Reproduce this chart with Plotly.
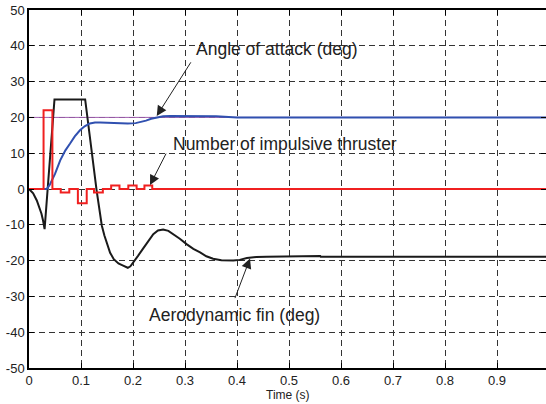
import plotly.graph_objects as go

# Number of impulsive thruster (step signal)
thr_t = [0, 0.028, 0.045, 0.061, 0.0775, 0.094, 0.111, 0.125, 0.142, 0.158, 0.174, 0.191, 0.207, 0.222, 0.237, 1.0]
thr_v = [0, 22, 0, -1, 0, -4, 0, -1, 0, 1, 0, 1, 0, 1, 0, 0]

# Angle of attack (deg)
aoa_t = [0, 0.034, 0.040, 0.045, 0.05, 0.06, 0.07, 0.079, 0.088, 0.098, 0.107, 0.117, 0.127, 0.137,
         0.16, 0.19, 0.205, 0.215, 0.225, 0.235, 0.246, 0.258, 0.271, 0.30, 0.36, 0.4, 1.0]
aoa_v = [0, 0, 1.2, 2.6, 4.2, 8, 10.8, 12.7, 14.7, 16.4, 17.5, 18.3, 18.6, 18.6,
         18.4, 18.3, 18.4, 18.7, 19.1, 19.6, 20.0, 20.3, 20.4, 20.4, 20.3, 20.0, 20.0]

# Aerodynamic fin (deg)
fin_t = [0, 0.008, 0.015, 0.020, 0.024, 0.027, 0.030, 0.049, 0.108, 0.130, 0.140, 0.145, 0.150, 0.156,
         0.163, 0.172, 0.181, 0.190, 0.195, 0.200, 0.210, 0.220, 0.230, 0.239, 0.248, 0.258, 0.268,
         0.278, 0.290, 0.303, 0.316, 0.329, 0.341, 0.354, 0.370, 0.393, 0.405, 0.419, 0.437, 0.457,
         0.483, 0.560, 0.561, 1.0]
fin_v = [0, -1.2, -3.2, -5.0, -6.9, -8.8, -11.2, 25, 25, -0.4, -10.2, -13.0, -15.4, -17.8,
         -19.6, -20.8, -21.4, -22.0, -21.6, -20.5, -18.6, -16.5, -14.3, -12.6, -11.6, -11.3, -11.7,
         -12.6, -13.9, -15.4, -16.7, -17.7, -18.8, -19.5, -19.9, -20.0, -19.8, -19.3, -19.0, -18.9,
         -18.8, -18.7, -18.9, -18.9]

# Reference command
ref_t = [0, 1.0]
ref_v = [20, 20]

x_ticks = [0, 0.1, 0.2, 0.3, 0.4, 0.5, 0.6, 0.7, 0.8, 0.9]
x_labels = ["0", "0.1", "0.2", "0.3", "0.4", "0.5", "0.6", "0.7", "0.8", "0.9"]
y_ticks = [50, 40, 30, 20, 10, 0, -10, -20, -30, -40, -50]
y_labels = ["50", "40", "30", "20", "10", "0", "-10", "-20", "-30", "-40", "-50"]

FONT = "Liberation Sans, Arial, sans-serif"

fig = go.Figure()
fig.add_trace(go.Scatter(x=ref_t, y=ref_v, mode="lines", line=dict(color="#a060b0", width=1)))
fig.add_trace(go.Scatter(x=fin_t, y=fin_v, mode="lines", line=dict(color="#1a1a1a", width=2)))
fig.add_trace(go.Scatter(x=aoa_t, y=aoa_v, mode="lines", line=dict(color="#3050b0", width=2)))
fig.add_trace(go.Scatter(x=thr_t, y=thr_v, mode="lines", line=dict(color="#f02020", width=2, shape="hv")))

annots = [
    dict(text="Angle of attack (deg)", x=0.318, y=39.2, tip=(0.2456, 20.4), tail=(0.313, 35.8)),
    dict(text="Number of impulsive thruster", x=0.273, y=12.7, tip=(0.2327, 1.1), tail=(0.265, 10.3)),
    dict(text="Aerodynamic fin (deg)", x=0.2275, y=-35.3, tip=(0.425, -19.4), tail=(0.395, -30.9)),
]
for a in annots:
    fig.add_annotation(x=a["x"], y=a["y"], text=a["text"], showarrow=False, xanchor="left",
                       yanchor="middle", font=dict(family=FONT, size=17.5, color="#222222"))
    fig.add_annotation(x=a["tip"][0], y=a["tip"][1], ax=a["tail"][0], ay=a["tail"][1],
                       axref="x", ayref="y", xref="x", yref="y", text="", showarrow=True,
                       arrowhead=2, arrowsize=2, arrowwidth=1, arrowcolor="#222222")

fig.add_annotation(x=0.5, y=-0.076, xref="paper", yref="paper", text="Time (s)", showarrow=False,
                   xanchor="center", yanchor="middle", font=dict(family=FONT, size=12, color="#222222"))

axis_common = dict(showline=True, linecolor="black", linewidth=1.5, mirror="ticks",
                   ticks="inside", ticklen=5, tickcolor="black", zeroline=False, automargin=False,
                   showgrid=True, gridcolor="#333333", gridwidth=1, griddash="6px,4px",
                   tickfont=dict(family=FONT, size=13, color="#222222"))

fig.update_xaxes(range=[0, 0.9942], tickvals=x_ticks, ticktext=x_labels, **axis_common)
fig.update_yaxes(range=[-50, 50], tickvals=y_ticks, ticktext=y_labels, **axis_common)

fig.update_layout(width=546, height=404, showlegend=False,
                  margin=dict(l=29, r=0, t=10, b=35.5),
                  plot_bgcolor="white", paper_bgcolor="white")

fig.write_html("out.html", config={"displayModeBar": False},
               post_script="document.body.style.margin='0';document.body.style.padding='0';"
                           "document.body.style.overflow='hidden';")
